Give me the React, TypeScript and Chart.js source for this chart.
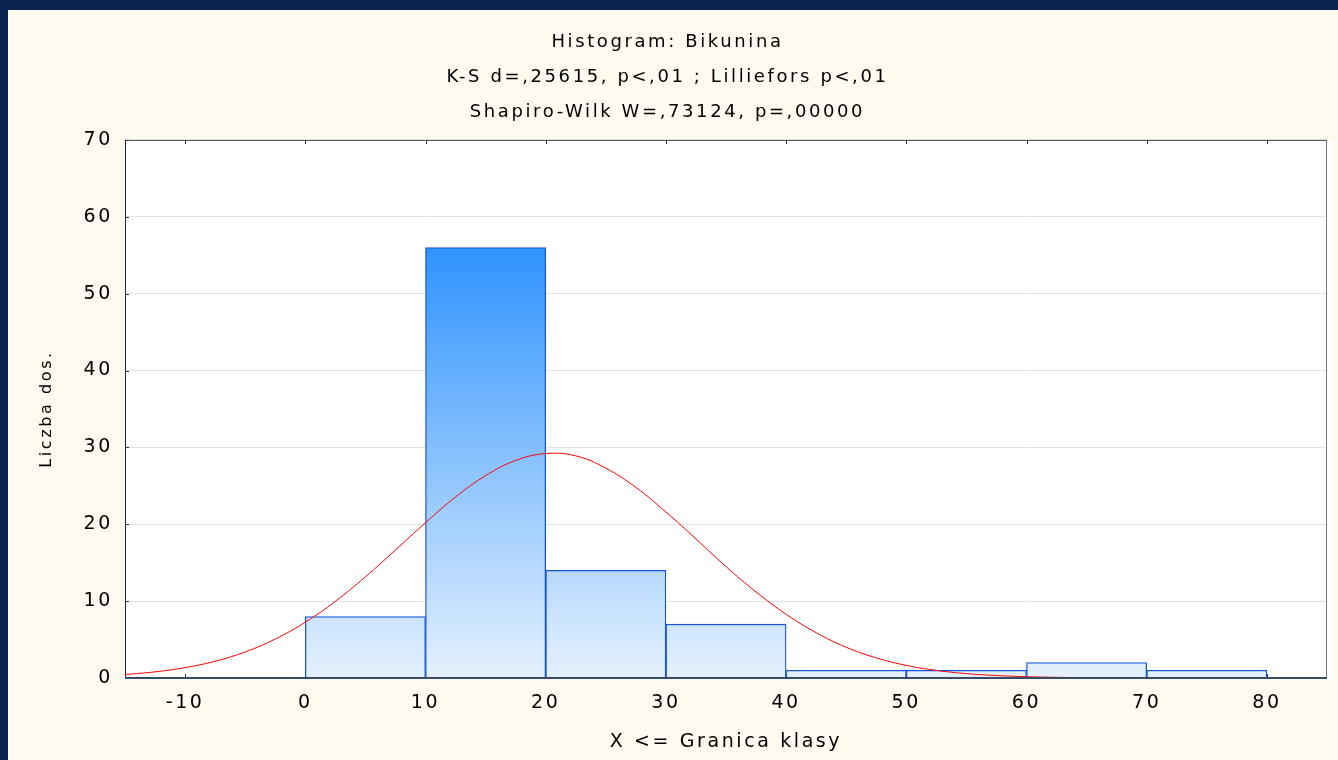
import React, { useEffect, useRef } from 'react';
import { Chart, registerables } from 'chart.js';

Chart.register(...registerables);

const titleLines = [
  'Histogram: Bikunina',
  'K-S d=,25615, p<,01 ; Lilliefors p<,01',
  'Shapiro-Wilk W=,73124, p=,00000',
];
const xAxisTitle = 'X <= Granica klasy';
const yAxisTitle = 'Liczba dos.';

// histogram bins (class centres, width 10) and counts
const binCenters = [5, 15, 25, 35, 45, 55, 65, 75];
const binCounts = [8, 56, 14, 7, 1, 1, 2, 1];

// expected normal curve
const curveX = [
  -15, -12.5, -10, -7.5, -5, -2.5, 0, 2.5, 5, 7.5, 10, 12.5, 15, 17.5, 20, 22.5, 25, 27.5, 30, 32.5,
  35, 37.5, 40, 42.5, 45, 47.5, 50, 52.5, 55, 57.5, 60, 62.5, 65, 67.5, 70, 72.5, 75, 77.5, 80, 82.5, 85,
];
const curveY = [
  0.45, 0.8, 1.35, 2.18, 3.39, 5.07, 7.26, 9.98, 13.16, 16.65, 20.2, 23.55, 26.33, 28.3, 29.2, 28.9,
  27.3, 24.8, 21.6, 18.1, 14.5, 11.2, 8.3, 5.9, 4.0, 2.62, 1.64, 0.99, 0.57, 0.32, 0.17, 0.09, 0.04,
  0.02, 0.01, 0, 0, 0, 0, 0, 0,
];

const xTickValues = [-10, 0, 10, 20, 30, 40, 50, 60, 70, 80];
const yTickValues = [0, 10, 20, 30, 40, 50, 60, 70];
const xMin = -15;
const xMax = 85;
const yMin = 0;
const yMax = 70;

const FONT = '"DejaVu Sans", "Liberation Sans", Arial, sans-serif';
const CREAM = '#fefaef';
const NAVY = '#0b2452';
const SPACING = '2.6px';

const spacingPlugin = {
  id: 'spacing',
  beforeUpdate(chart: any) {
    chart.ctx.letterSpacing = SPACING;
  },
  beforeDraw(chart: any) {
    chart.ctx.letterSpacing = SPACING;
  },
};

const backgroundPlugin = {
  id: 'bgframe',
  beforeDraw(chart: any) {
    const { ctx, chartArea, width, height } = chart;
    ctx.save();
    ctx.fillStyle = CREAM;
    ctx.fillRect(0, 0, width, height);
    ctx.fillStyle = '#ffffff';
    ctx.fillRect(chartArea.left, chartArea.top, chartArea.right - chartArea.left + 5, chartArea.bottom - chartArea.top + 3);
    ctx.restore();
  },
  beforeDatasetsDraw(chart: any) {
    const { ctx, chartArea, scales } = chart;
    const { left, right, top, bottom } = chartArea;
    ctx.save();
    ctx.lineWidth = 1;
    ctx.strokeStyle = '#555555';
    ctx.beginPath();
    ctx.moveTo(left, top + 0.5);
    ctx.lineTo(right, top + 0.5);
    ctx.stroke();
    ctx.strokeStyle = '#222222';
    ctx.beginPath();
    ctx.moveTo(left + 0.5, top);
    ctx.lineTo(left + 0.5, bottom);
    ctx.stroke();
    ctx.strokeStyle = '#777777';
    ctx.beginPath();
    ctx.moveTo(right - 0.5, top);
    ctx.lineTo(right - 0.5, bottom);
    ctx.stroke();
    ctx.strokeStyle = '#333333';
    xTickValues.forEach((v) => {
      const x = Math.round(scales.x.getPixelForValue(v)) + 0.5;
      ctx.beginPath();
      ctx.moveTo(x, top);
      ctx.lineTo(x, top + 4);
      ctx.moveTo(x, bottom);
      ctx.lineTo(x, bottom - 4);
      ctx.stroke();
    });
    yTickValues.forEach((v) => {
      const y = Math.round(scales.y.getPixelForValue(v)) + 0.5;
      ctx.beginPath();
      ctx.moveTo(left, y);
      ctx.lineTo(left + 4, y);
      ctx.stroke();
    });
    ctx.restore();
  },
  afterDatasetsDraw(chart: any) {
    const { ctx, chartArea } = chart;
    ctx.save();
    ctx.strokeStyle = '#3b4a68';
    ctx.lineWidth = 2;
    ctx.beginPath();
    ctx.moveTo(chartArea.left, chartArea.bottom);
    ctx.lineTo(chartArea.right, chartArea.bottom);
    ctx.stroke();
    ctx.restore();
  },
};

export default function App() {
  const canvasRef = useRef<HTMLCanvasElement | null>(null);

  useEffect(() => {
    const canvas = canvasRef.current;
    if (!canvas) return;
    const maxCount = Math.max(...binCounts);
    const chart = new Chart(canvas, {
      type: 'bar',
      data: {
        datasets: [
          {
            type: 'line',
            data: curveX.map((x, i) => ({ x, y: curveY[i] })),
            borderColor: '#ff0000',
            borderWidth: 1,
            pointRadius: 0,
            tension: 0.4,
            fill: false,
            order: 0,
          } as any,
          {
            type: 'bar',
            data: binCenters.map((x, i) => ({ x, y: binCounts[i] })),
            backgroundColor: (c: any) => {
              const ch = c.chart;
              if (!ch.chartArea) return '#9cc8f8';
              const y0 = ch.scales.y.getPixelForValue(0);
              const y1 = ch.scales.y.getPixelForValue(maxCount);
              const g = ch.ctx.createLinearGradient(0, y1, 0, y0);
              g.addColorStop(0, '#2f93ff');
              g.addColorStop(1, '#e5f1fd');
              return g;
            },
            borderColor: '#1656d6',
            borderWidth: 1.3,
            borderSkipped: 'bottom',
            barPercentage: 1,
            categoryPercentage: 1,
            order: 1,
          } as any,
        ],
      },
      options: {
        animation: false,
        responsive: false,
        devicePixelRatio: 1,
        layout: { padding: { top: 0, right: 11, bottom: 0, left: 0 } },
        plugins: {
          legend: { display: false },
          tooltip: { enabled: false },
          title: {
            display: true,
            text: titleLines,
            color: '#000000',
            font: { family: FONT, size: 18, weight: 'normal', lineHeight: 1.944 },
            padding: { top: 14.5, bottom: 10.5 },
          },
        },
        scales: {
          x: {
            type: 'linear',
            min: xMin,
            max: xMax,
            offset: false,
            afterBuildTicks: (s: any) => {
              s.ticks = xTickValues.map((v) => ({ value: v }));
            },
            afterFit: (s: any) => {
              s.height = 82;
            },
            grid: { display: false, drawTicks: false, offset: false },
            border: { display: false },
            ticks: {
              color: '#000000',
              font: { family: FONT, size: 19 },
              padding: 14,
              maxRotation: 0,
              autoSkip: false,
            },
            title: {
              display: true,
              text: xAxisTitle,
              color: '#000000',
              font: { family: FONT, size: 19 },
              padding: { top: 0, bottom: 7 },
            },
          },
          y: {
            type: 'linear',
            min: yMin,
            max: yMax,
            afterBuildTicks: (s: any) => {
              s.ticks = yTickValues.map((v) => ({ value: v }));
            },
            afterFit: (s: any) => {
              s.width = 117;
            },
            grid: { color: '#e2e2e2', lineWidth: 1, drawTicks: false },
            border: { display: false },
            ticks: {
              color: '#000000',
              font: { family: FONT, size: 19 },
              padding: 12,
            },
            title: {
              display: true,
              text: yAxisTitle,
              color: '#000000',
              font: { family: FONT, size: 16 },
              padding: { top: 29, bottom: 0 },
            },
          },
        },
      } as any,
      plugins: [spacingPlugin, backgroundPlugin],
    });
    return () => chart.destroy();
  }, []);

  return (
    <div style={{ position: 'fixed', left: 0, top: 0, width: 1338, height: 760, background: NAVY, overflow: 'hidden' }}>
      <div style={{ position: 'absolute', left: 8, top: 10, width: 1330, height: 750, background: CREAM }}>
        <canvas ref={canvasRef} width={1330} height={750} style={{ display: 'block', width: 1330, height: 750 }} />
      </div>
    </div>
  );
}
